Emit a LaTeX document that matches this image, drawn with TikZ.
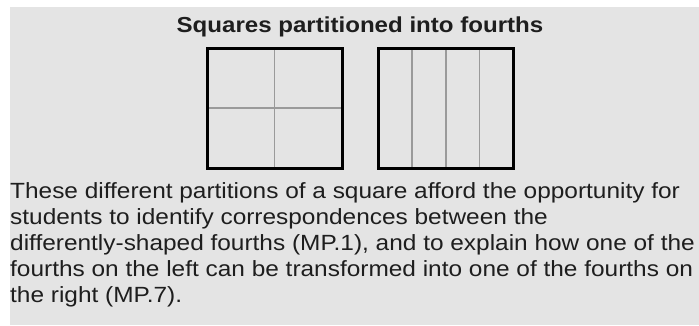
\documentclass[tikz,border=0pt]{standalone}
\usepackage{fontspec}
\setmainfont[FakeStretch=1.11]{Liberation Sans}
\definecolor{bgc}{HTML}{E4E4E4}
\definecolor{txt}{HTML}{1E1E1E}
\definecolor{thin}{HTML}{9A9A9A}
\begin{document}
\begin{tikzpicture}[x=1pt,y=-1pt,
  body/.style={anchor=base west,inner sep=0pt,text=txt,font=\fontsize{22}{26}\selectfont},
  ttl/.style={anchor=base,inner sep=0pt,text=txt,font=\fontsize{21.7}{26}\selectfont\bfseries},
  outer/.style={draw=black,line width=3pt},
  inner/.style={draw=thin,line width=1.6pt}]
\useasboundingbox (0,0) rectangle (699,325);
\fill[bgc] (10,7) rectangle (699,325);
\node[ttl] (title) at (360,32) {Squares partitioned into fourths};
% left square
\draw[inner] (274.5,48) -- (274.5,168);
\draw[inner] (207,108) -- (342,108);
\draw[outer] (207,48) rectangle (342,168);
% right square
\draw[inner] (412,48) -- (412,168);
\draw[inner] (445.8,48) -- (445.8,168);
\draw[inner] (479.4,48) -- (479.4,168);
\draw[outer] (378.5,48) rectangle (513,168);
% text
\node[body] (l1) at (10,198) {These different partitions of a square afford the opportunity for};
\node[body] (l2) at (10,224) {students to identify correspondences between the};
\node[body] (l3) at (10,250) {differently-shaped fourths (MP.1), and to explain how one of the};
\node[body] (l4) at (10,276) {fourths on the left can be transformed into one of the fourths on};
\node[body] (l5) at (10,302) {the right (MP.7).};
\end{tikzpicture}
\end{document}
